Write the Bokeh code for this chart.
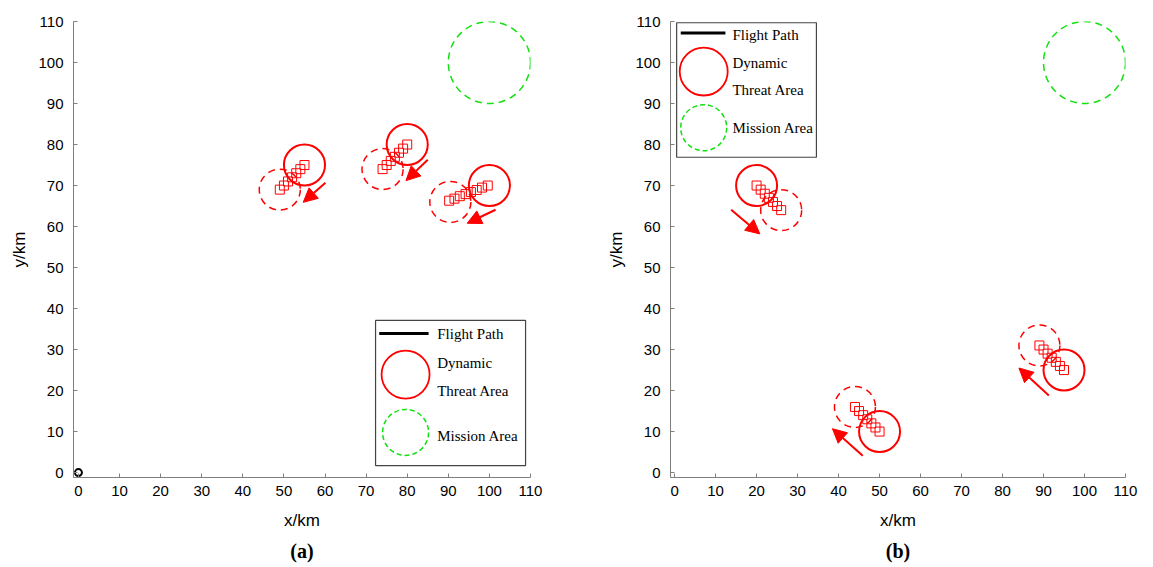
from bokeh.plotting import figure
from bokeh.layouts import row
from bokeh.models import Range1d, Arrow, NormalHead, ColumnDataSource, Title, FixedTicker
from bokeh.core.properties import value
from bokeh.embed import file_html
from bokeh.resources import INLINE

# ---------------- data ----------------
ticks = [0, 10, 20, 30, 40, 50, 60, 70, 80, 90, 100, 110]
mission_x = [100]
mission_y = [100]
mission_r = 10
threat_r = 5

# panel (a)
a_cur_x = [55, 80, 100]
a_cur_y = [75, 80, 70]
a_start_x = [49, 74, 90.5]
a_start_y = [69, 74, 66]
a_sq_x = [49, 50, 51, 52, 53, 54, 55,
          74, 75, 76, 77, 78, 79, 80,
          90.2, 91.5, 92.8, 94.2, 95.5, 96.9, 98.2, 99.6]
a_sq_y = [69, 70, 71, 72, 73, 74, 75,
          74, 75, 76, 77, 78, 79, 80,
          66.3, 66.8, 67.4, 67.9, 68.4, 68.9, 69.5, 70.0]
a_arrow_x0 = [60.1, 85.0, 101.5]
a_arrow_y0 = [70.7, 76.3, 64.1]
a_arrow_x1 = [54.7, 79.7, 94.6]
a_arrow_y1 = [65.9, 71.2, 60.8]
a_origin_x = [0]
a_origin_y = [0]

# panel (b)
b_cur_x = [20, 95, 50]
b_cur_y = [70, 25, 10]
b_start_x = [26, 89, 44]
b_start_y = [64, 31, 16]
b_sq_x = [20, 21, 22, 23, 24, 25, 26,
          89, 90, 91, 92, 93, 94, 95,
          44, 45, 46, 47, 48, 49, 50]
b_sq_y = [70, 69, 68, 67, 66, 65, 64,
          31, 30, 29, 28, 27, 26, 25,
          16, 15, 14, 13, 12, 11, 10]
b_arrow_x0 = [13.8, 91.3, 45.9]
b_arrow_y0 = [64.1, 18.8, 4.1]
b_arrow_x1 = [20.8, 84.0, 38.5]
b_arrow_y1 = [58.2, 25.5, 10.7]

legend_labels = ["Flight Path", "Dynamic", "Threat Area", "Mission Area"]

RED = "#ff0000"
GREEN = "#11e011"
AXIS_GREY = "#7f7f7f"


def make_fig(width, bl, br, xstart, title):
    p = figure(width=width, height=567, output_backend="svg", toolbar_location=None,
               x_range=Range1d(xstart, 110), y_range=Range1d(-1.2, 110),
               min_border_left=bl, min_border_right=br, min_border_top=21,
               min_border_bottom=90)
    p.outline_line_color = None
    p.xgrid.visible = False
    p.ygrid.visible = False
    for ax in (p.xaxis[0], p.yaxis[0]):
        ax.ticker = FixedTicker(ticks=ticks)
        ax.minor_tick_line_color = None
        ax.major_tick_in = 4
        ax.major_tick_out = 0
        ax.axis_line_color = AXIS_GREY
        ax.major_tick_line_color = AXIS_GREY
        ax.major_label_text_font = "Liberation Sans"
        ax.major_label_text_font_size = "15px"
        ax.major_label_text_color = "black"
        ax.axis_label_text_font = "Liberation Sans"
        ax.axis_label_text_font_size = "17px"
        ax.axis_label_text_font_style = "normal"
        ax.axis_label_text_color = "black"
    p.xaxis[0].axis_label = "x/km"
    p.yaxis[0].axis_label = "y/km"
    p.xaxis[0].major_label_standoff = 8
    p.yaxis[0].major_label_standoff = 10
    p.xaxis[0].axis_label_standoff = 12
    p.yaxis[0].axis_label_standoff = 6
    t = Title(text=title, align="center", text_font="Liberation Serif",
              text_font_style="bold", text_font_size="20px", text_color="black")
    p.add_layout(t, "below")
    # mission area
    p.ellipse(x=mission_x, y=mission_y, width=2 * mission_r, height=2 * mission_r,
              fill_color=None, line_color=GREEN, line_width=1.5, line_dash="7 5")
    return p


def draw_threats(p, cx, cy, sx, sy, qx, qy, ax0, ay0, ax1, ay1):
    n = len(cx)
    p.ellipse(x=sx, y=sy, width=[2 * threat_r] * n, height=[2 * threat_r] * n,
              fill_color=None, line_color=RED, line_width=1.5, line_dash="7 5")
    p.rect(x=qx, y=qy, width=9, height=9, width_units="screen", height_units="screen",
           fill_alpha=0, fill_color="white", line_color=RED, line_width=1)
    p.ellipse(x=cx, y=cy, width=[2 * threat_r] * n, height=[2 * threat_r] * n,
              fill_color=None, line_color=RED, line_width=2)
    src = ColumnDataSource(dict(x0=ax0, y0=ay0, x1=ax1, y1=ay1))
    p.add_layout(Arrow(x_start="x0", y_start="y0", x_end="x1", y_end="y1", source=src,
                       line_color=RED, line_width=2,
                       end=NormalHead(size=14, fill_color=RED, line_color=RED, line_width=1)))


def draw_legend(p, box, line_x, line_y, text_x, ys, circ_x, circ_red_y, circ_green_y):
    l, r, b, t = box
    p.quad(left=[l], right=[r], bottom=[b], top=[t], fill_color="white",
           line_color="#444444", line_width=1.2)
    p.line(x=line_x, y=[line_y, line_y], line_color="black", line_width=3)
    p.scatter(x=[circ_x], y=[circ_red_y], marker="circle", size=48, fill_color=None,
              line_color=RED, line_width=1.8)
    p.scatter(x=[circ_x], y=[circ_green_y], marker="circle", size=46, fill_color=None,
              line_color=GREEN, line_width=1.5, line_dash="5 3")
    p.text(x=[text_x] * 4, y=ys, text=legend_labels, text_font=value("Liberation Serif"),
           text_font_size="15px", text_baseline="middle", text_align="left",
           text_color="black")


pa = make_fig(576, 73, 46, -1.2, "(a)")
draw_threats(pa, a_cur_x, a_cur_y, a_start_x, a_start_y, a_sq_x, a_sq_y,
             a_arrow_x0, a_arrow_y0, a_arrow_x1, a_arrow_y1)
draw_legend(pa, (72.3, 108.8, 1.7, 37.1), [73.2, 85.2], 33.9, 87.3,
            [33.9, 26.8, 20.0, 8.8], 79.6, 23.9, 9.8)
pa.scatter(x=a_origin_x, y=a_origin_y, marker="circle", size=7, fill_color=None,
           line_color="black", line_width=2)

pb = make_fig(577, 94, 28, -1.0, "(b)")
draw_threats(pb, b_cur_x, b_cur_y, b_start_x, b_start_y, b_sq_x, b_sq_y,
             b_arrow_x0, b_arrow_y0, b_arrow_x1, b_arrow_y1)
draw_legend(pb, (0.5, 34.6, 76.9, 109.7), [1.5, 12.4], 107.2, 14.1,
            [106.6, 99.8, 93.4, 84.1], 7.1, 97.8, 84.1)

layout = row(pa, pb)
open("out.html", "w").write(file_html(layout, INLINE))
